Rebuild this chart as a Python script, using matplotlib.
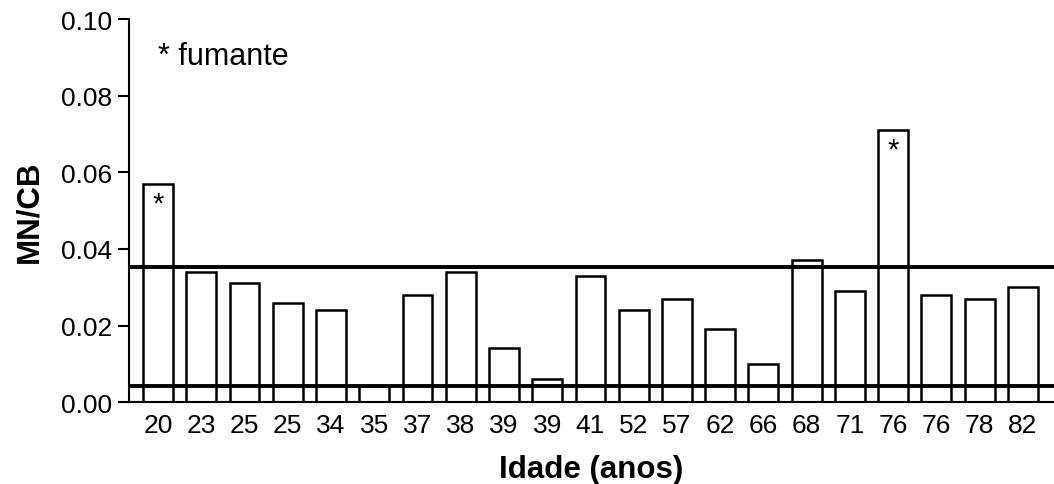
import matplotlib.pyplot as plt
import numpy as np

plt.rcParams['font.family'] = ['Liberation Sans', 'DejaVu Sans']

# Dados
idades = ['20', '23', '25', '25', '34', '35', '37', '38', '39', '39', '41',
          '52', '57', '62', '66', '68', '71', '76', '76', '78', '82']
mn_cb = [0.057, 0.034, 0.031, 0.026, 0.024, 0.0042, 0.028, 0.034, 0.014, 0.006, 0.033,
         0.024, 0.027, 0.019, 0.010, 0.037, 0.029, 0.071, 0.028, 0.027, 0.030]
fumante = [0, 17]
limite_sup = 0.0353
limite_inf = 0.0042

fig = plt.figure(figsize=(10.54, 4.85), dpi=100)
ax = fig.add_axes([0.1224, 0.169, 0.8776, 0.789])

x = np.arange(len(idades))
ax.bar(x, mn_cb, width=0.69, color='white', edgecolor='black', linewidth=1.8, zorder=2)

# Linhas de referencia
ax.axhline(limite_sup, color='black', linewidth=2.8, zorder=3)
ax.axhline(limite_inf, color='black', linewidth=2.8, zorder=3)

# Asteriscos dos fumantes
for i in fumante:
    ax.text(x[i], mn_cb[i] - 0.0014, '*', ha='center', va='top', fontsize=21)

ax.text(0.0, 0.0905, '* fumante', ha='left', va='center', fontsize=22)

ax.set_xlim(-0.67, len(idades) - 1 + 0.72)
ax.set_ylim(0, 0.10)
ax.set_yticks([0.00, 0.02, 0.04, 0.06, 0.08, 0.10])
ax.set_yticklabels(['0.00', '0.02', '0.04', '0.06', '0.08', '0.10'])
ax.set_xticks(x)
ax.set_xticklabels(idades)

ax.tick_params(axis='y', length=8, width=1.5, labelsize=19, pad=4)
ax.tick_params(axis='x', length=0, labelsize=19, pad=8)

ax.spines['top'].set_visible(False)
ax.spines['right'].set_visible(False)
ax.spines['left'].set_linewidth(1.5)
ax.spines['bottom'].set_linewidth(1.5)

ax.set_xlabel('Idade (anos)', fontsize=22.5, fontweight='bold', labelpad=12)
ax.set_ylabel('MN/CB', fontsize=22.5, fontweight='bold', labelpad=12)

plt.savefig('out.png', dpi=100)
